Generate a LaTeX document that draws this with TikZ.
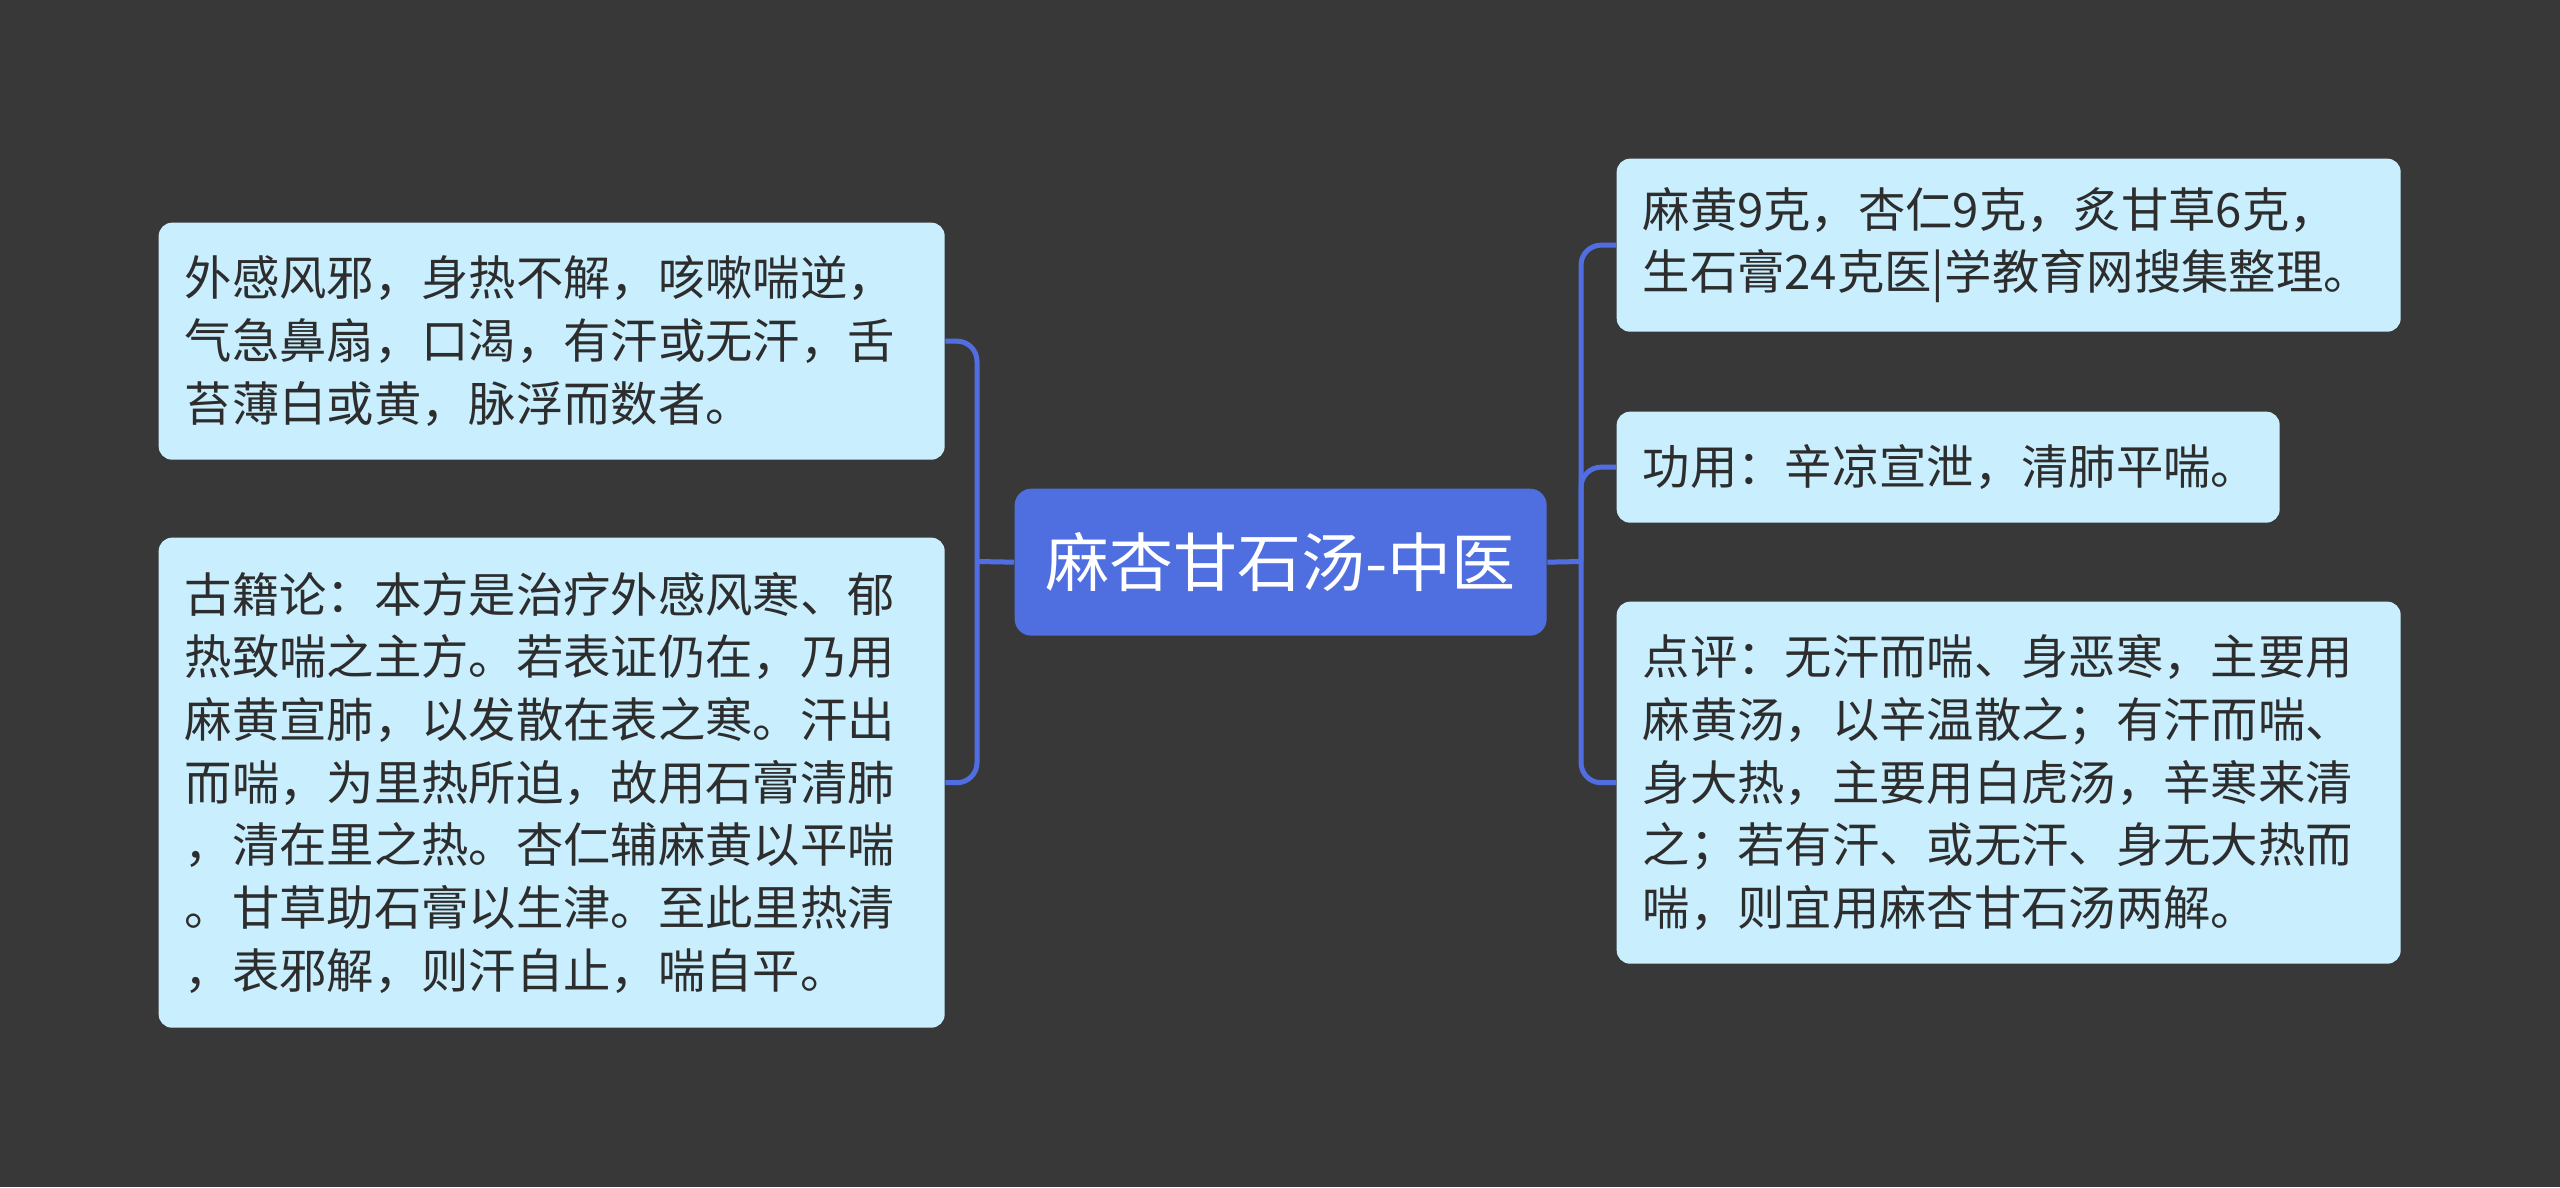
\documentclass[tikz,border=0pt]{standalone}
\usepackage{fontspec}
\setmainfont{Noto Sans CJK SC}
\definecolor{bgc}{RGB}{57,56,57}
\definecolor{centc}{RGB}{79,111,224}
\definecolor{leafc}{RGB}{201,238,253}
\definecolor{linec}{RGB}{80,110,225}
\definecolor{txtc}{RGB}{45,45,45}
\begin{document}
\begin{tikzpicture}[x=1pt,y=-1pt,
  leaf/.style={rectangle, rounded corners=4pt, fill=leafc, draw=none, anchor=north west,
    inner xsep=7.8pt, inner ysep=0pt, align=left, text=txtc,
    font=\fontsize{14.2pt}{18.8pt}\selectfont},
  cent/.style={rectangle, rounded corners=5pt, fill=centc, draw=none, anchor=north west,
    inner sep=0pt, text=white, minimum width=159.6pt, minimum height=44.1pt,
    font=\fontsize{19.2pt}{23pt}\selectfont},
  conn/.style={draw=linec, line width=1.5pt}]
\fill[bgc] (0,0) rectangle (768,356.1);
\useasboundingbox (0,0) rectangle (768,356.1);

\node[cent] (C) at (304.2,146.4) {麻杏甘石汤-中医};

\node[leaf, text width=220.2pt, minimum height=71.1pt] (L1) at (47.4,66.6)
  {外感风邪，身热不解，咳嗽喘逆，\\气急鼻扇，口渴，有汗或无汗，舌\\苔薄白或黄，脉浮而数者。};
\node[leaf, text width=220.2pt, minimum height=147pt] (L2) at (47.4,161.1)
  {古籍论：本方是治疗外感风寒、郁\\热致喘之主方。若表证仍在，乃用\\麻黄宣肺，以发散在表之寒。汗出\\而喘，为里热所迫，故用石膏清肺\\，清在里之热。杏仁辅麻黄以平喘\\。甘草助石膏以生津。至此里热清\\，表邪解，则汗自止，喘自平。};

\node[leaf, text width=219.6pt, minimum height=51.9pt] (R1) at (484.8,47.4)
  {麻黄9克，杏仁9克，炙甘草6克，\\生石膏24克医|学教育网搜集整理。};
\node[leaf, text width=183.3pt, minimum height=33.3pt] (R2) at (484.8,123.3)
  {功用：辛凉宣泄，清肺平喘。};
\node[leaf, text width=219.6pt, minimum height=108.6pt] (R3) at (484.8,180.3)
  {点评：无汗而喘、身恶寒，主要用\\麻黄汤，以辛温散之；有汗而喘、\\身大热，主要用白虎汤，辛寒来清\\之；若有汗、或无汗、身无大热而\\喘，则宜用麻杏甘石汤两解。};

\coordinate (lb) at (293.1,168.45);
\coordinate (rb) at (474.3,168.45);

\draw[conn] (C.west) -- (lb);
\draw[conn, rounded corners=6pt] (L1.east) -| (lb) |- (L2.east);
\draw[conn] (C.east) -- (rb);
\draw[conn, rounded corners=6pt] (R1.west) -| (rb) |- (R3.west);
\draw[conn, rounded corners=6pt] (rb) |- (R2.west);
\end{tikzpicture}
\end{document}
